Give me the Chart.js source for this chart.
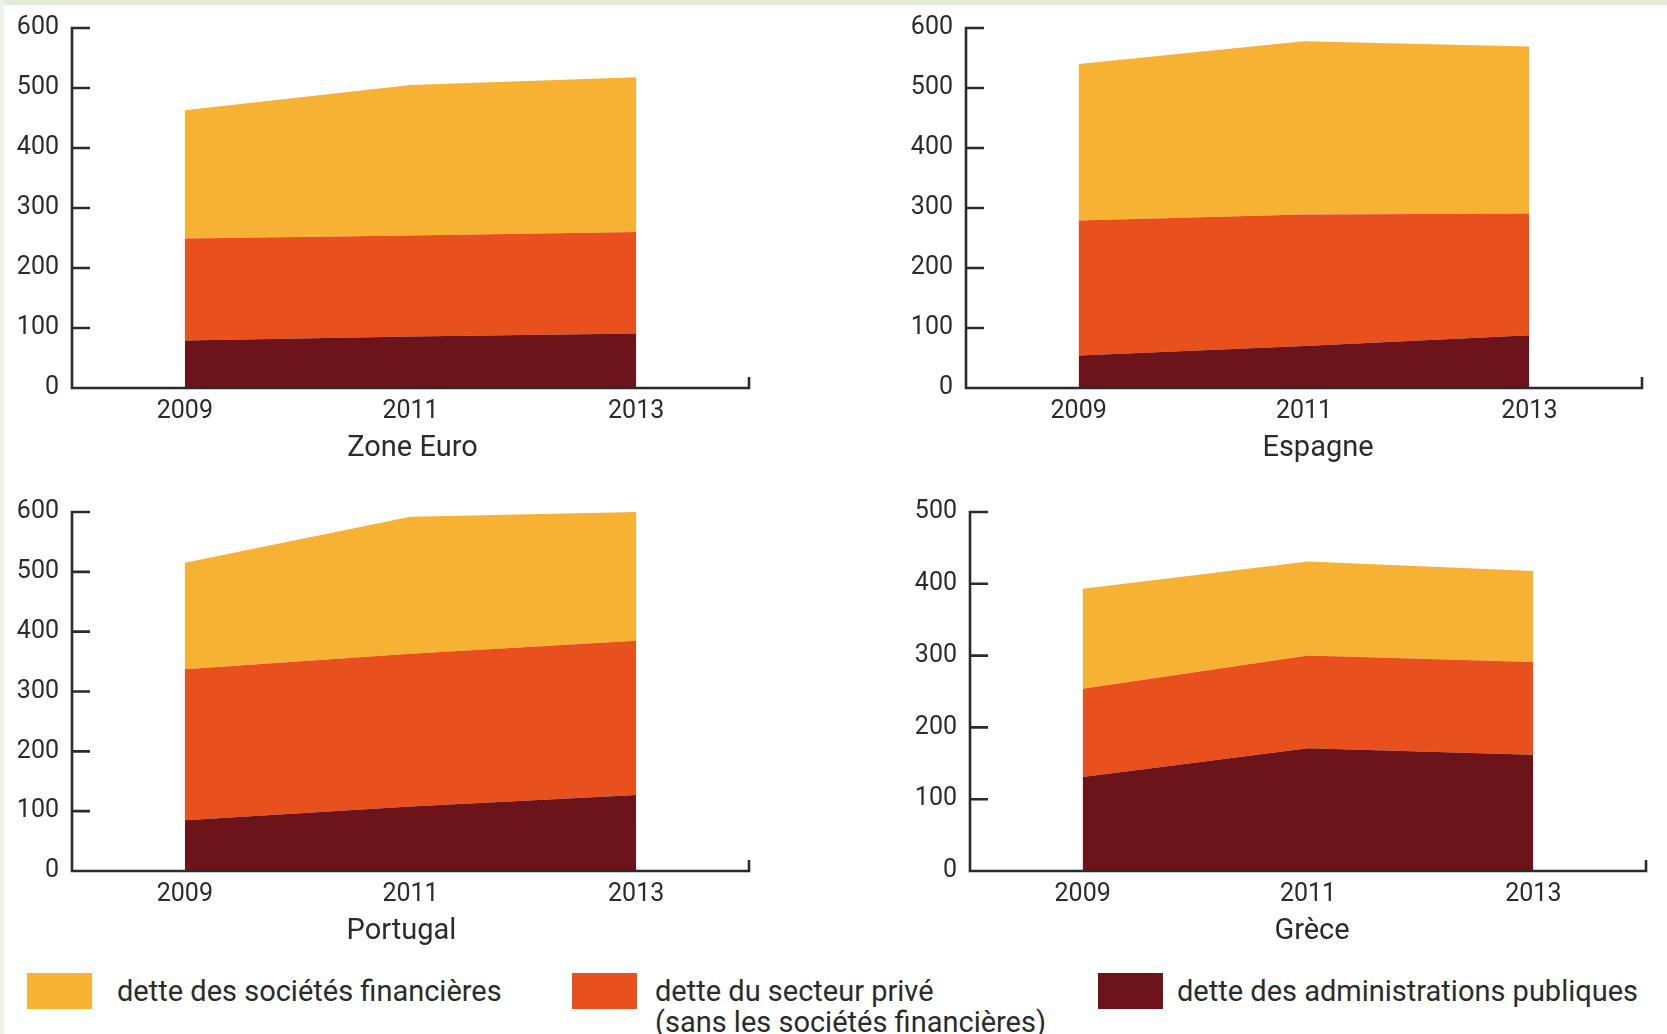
<!DOCTYPE html>
<html lang="fr">
<head>
<meta charset="utf-8">
<title>Dette par secteur</title>
<script src="https://cdn.jsdelivr.net/npm/chart.js@4/dist/chart.umd.min.js"></script>
<style>
  html, body { margin: 0; padding: 0; background: #ffffff; }
  #page { position: relative; width: 1667px; height: 1034px; overflow: hidden; background: #ffffff; font-family: Roboto, "Noto Sans", sans-serif; color: #2b2b2b; }
  #stripTop { position: absolute; left: 0; top: 0; width: 1667px; height: 5px; background: #e3ebd6; }
  #stripLeft { position: absolute; left: 0; top: 0; width: 4px; height: 1034px; background: #eef1e7; }
  canvas { position: absolute; }
  .key { position: absolute; top: 973px; height: 36px; }
  .swatch { position: absolute; left: 0; top: 0; width: 65px; height: 36px; }
  .label { position: absolute; top: 3px; white-space: nowrap; font-size: 29px; line-height: 31px; color: #2b2b2b; }
</style>
</head>
<body>
<div id="page">
  <div id="stripTop"></div>
  <div id="stripLeft"></div>
  <canvas id="c0" width="790" height="470" style="left:0;top:0"></canvas>
  <canvas id="c1" width="833" height="470" style="left:834px;top:0"></canvas>
  <canvas id="c2" width="790" height="469" style="left:0;top:484px"></canvas>
  <canvas id="c3" width="833" height="469" style="left:834px;top:484px"></canvas>
  <div id="legend"></div>
</div>
<script>
// Years on the x axis and the tick years that carry labels
const years = [2009, 2011, 2013];
const tickYears = [2009, 2011, 2013];

// Series names (bottom layer first)
const seriesNames = [
  'dette des administrations publiques',
  'dette du secteur privé',
  'dette des sociétés financières'
];
const seriesColors = ['#6d141b', '#e8511d', '#f7b133'];

// Debt, % of GDP, per layer
const zoneEuroPublic = [79, 86, 91];
const zoneEuroPrivate = [170, 168, 169];
const zoneEuroFinancial = [214, 251, 258];

const espagnePublic = [54, 70, 88];
const espagnePrivate = [225, 219, 203];
const espagneFinancial = [261, 289, 278];

const portugalPublic = [85, 108, 127];
const portugalPrivate = [252, 255, 258];
const portugalFinancial = [178, 229, 215];

const grecePublic = [131, 171, 162];
const grecePrivate = [123, 129, 129];
const greceFinancial = [139, 131, 127];

// Panel titles and y-axis ranges
const panelTitles = ['Zone Euro', 'Espagne', 'Portugal', 'Grèce'];
const panelYMax = [600, 600, 600, 500];
const yStep = 100;

const panels = [
  [zoneEuroPublic, zoneEuroPrivate, zoneEuroFinancial],
  [espagnePublic, espagnePrivate, espagneFinancial],
  [portugalPublic, portugalPrivate, portugalFinancial],
  [grecePublic, grecePrivate, greceFinancial]
];

const INK = '#2b2b2b';
const FONT = 'Roboto, "Noto Sans", sans-serif';

// Axis frame: vertical axis with inward ticks, baseline with a raised end,
// and the panel name under the year labels
const axisFrame = {
  id: 'axisFrame',
  afterDraw(chart) {
    const { ctx, chartArea: a, scales: { x, y } } = chart;
    const opts = chart.options.plugins.axisFrame;
    ctx.save();
    ctx.strokeStyle = INK;
    ctx.lineWidth = 2.6;
    ctx.lineCap = 'butt';
    ctx.lineJoin = 'miter';
    ctx.beginPath();
    const top = y.getPixelForValue(y.max);
    const base = y.getPixelForValue(0);
    ctx.moveTo(a.left + 18, top);
    ctx.lineTo(a.left, top);
    ctx.lineTo(a.left, base);
    ctx.lineTo(x.getPixelForValue(x.max), base);
    ctx.lineTo(x.getPixelForValue(x.max), base - 11);
    y.ticks.forEach(t => {
      if (t.value === y.max || t.value === 0) return;
      const py = y.getPixelForValue(t.value);
      ctx.moveTo(a.left, py);
      ctx.lineTo(a.left + 18, py);
    });
    ctx.stroke();

    ctx.fillStyle = INK;
    ctx.font = '29px ' + FONT;
    ctx.textAlign = 'center';
    ctx.textBaseline = 'middle';
    ctx.fillText(opts.title, (a.left + a.right) / 2 + opts.shift, base + 61);
    ctx.restore();
  }
};

function makePanel(id, layers, title, shift, yMax, yWidth, padRight) {
  const datasets = layers.map((vals, i) => ({
    label: seriesNames[i],
    data: years.map((yr, k) => ({ x: yr, y: vals[k] })),
    backgroundColor: seriesColors[i],
    borderColor: seriesColors[i],
    borderWidth: 0,
    pointRadius: 0,
    tension: 0,
    fill: i === 0 ? 'origin' : '-1'
  }));
  new Chart(document.getElementById(id), {
    type: 'line',
    data: { datasets },
    options: {
      responsive: false,
      animation: false,
      layout: { padding: { top: 25, right: padRight, bottom: 0, left: 0 } },
      plugins: {
        legend: { display: false },
        tooltip: { enabled: false },
        axisFrame: { title, shift }
      },
      scales: {
        x: {
          type: 'linear',
          min: 2008,
          max: 2014,
          afterBuildTicks: s => { s.ticks = tickYears.map(v => ({ value: v })); },
          grid: { display: false, drawTicks: false },
          border: { display: false },
          ticks: {
            padding: 9,
            maxRotation: 0,
            color: INK,
            font: { family: FONT, size: 25 },
            callback: v => String(v)
          },
          afterFit: s => { s.height = 82; }
        },
        y: {
          stacked: true,
          min: 0,
          max: yMax,
          ticks: {
            stepSize: yStep,
            padding: 13,
            color: INK,
            font: { family: FONT, size: 25 }
          },
          grid: { display: false, drawTicks: false },
          border: { display: false },
          afterFit: s => { s.width = yWidth; }
        }
      }
    },
    plugins: [axisFrame]
  });
}

makePanel('c0', panels[0], panelTitles[0], 2, panelYMax[0], 72, 41);
makePanel('c1', panels[1], panelTitles[1], 14, panelYMax[1], 132, 25);
makePanel('c2', panels[2], panelTitles[2], -9, panelYMax[2], 72, 41);
makePanel('c3', panels[3], panelTitles[3], 4, panelYMax[3], 136, 21);

// Legend row
const legendItems = [
  { name: seriesNames[2], color: seriesColors[2], left: 27, textLeft: 90, extra: '' },
  { name: seriesNames[1], color: seriesColors[1], left: 572, textLeft: 83, extra: '(sans les sociétés financières)' },
  { name: seriesNames[0], color: seriesColors[0], left: 1098, textLeft: 79, extra: '' }
];
const legend = document.getElementById('legend');
legendItems.forEach(it => {
  const box = document.createElement('div');
  box.className = 'key';
  box.style.left = it.left + 'px';
  const sw = document.createElement('div');
  sw.className = 'swatch';
  sw.style.background = it.color;
  const lab = document.createElement('div');
  lab.className = 'label';
  lab.style.left = it.textLeft + 'px';
  lab.textContent = it.name;
  if (it.extra) {
    lab.appendChild(document.createElement('br'));
    lab.appendChild(document.createTextNode(it.extra));
  }
  box.appendChild(sw);
  box.appendChild(lab);
  legend.appendChild(box);
});
</script>
</body>
</html>
